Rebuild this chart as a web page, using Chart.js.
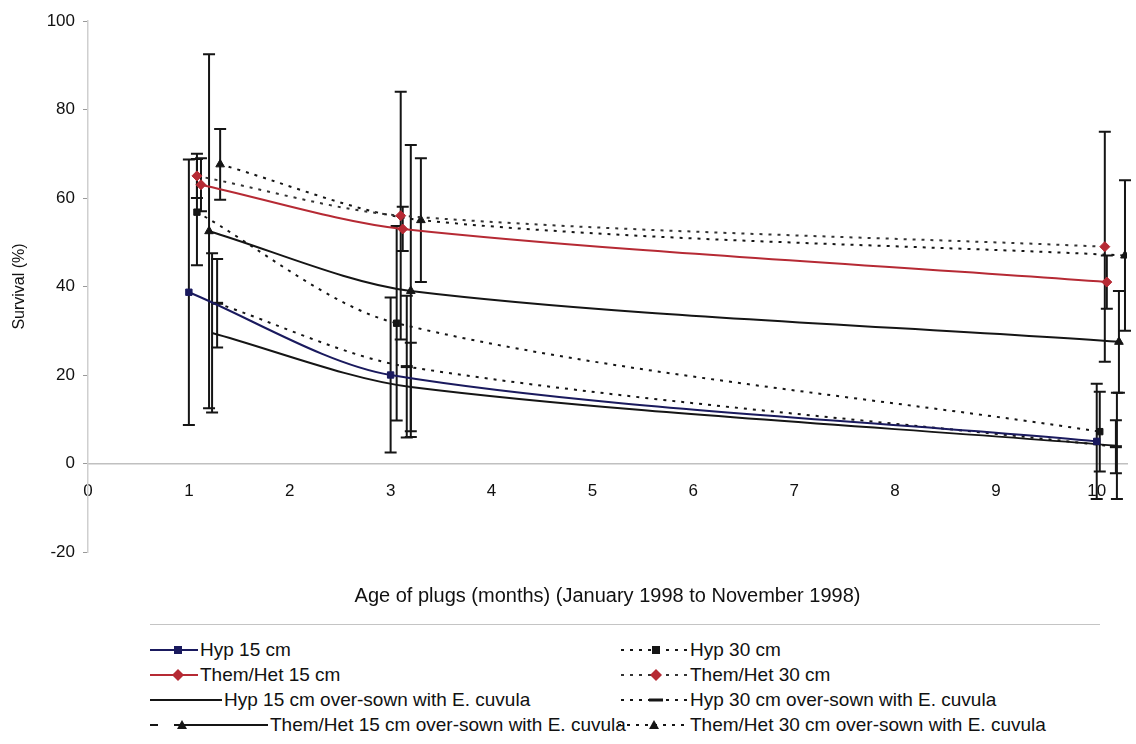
<!DOCTYPE html>
<html>
<head>
<meta charset="utf-8">
<script src="https://cdn.jsdelivr.net/npm/chart.js@4.4.0/dist/chart.umd.min.js"></script>
<style>
  html, body { margin: 0; padding: 0; background: #fff; }
  #wrap { position: relative; width: 1136px; height: 744px; overflow: hidden; font-family: "Liberation Sans", Arial, sans-serif; }
  #chart-box { position: absolute; left: 0; top: 0; width: 1136px; height: 620px; }
  .rule { position: absolute; left: 150px; top: 624px; width: 950px; border-top: 1px solid #c4c4c4; }
  .row { position: absolute; height: 24px; display: flex; align-items: center; font-size: 19px; color: #111; white-space: nowrap; }
  .row svg { flex: none; }
</style>
</head>
<body>
<div id="wrap">
  <div id="chart-box"><canvas id="c" width="1136" height="620"></canvas></div>
  <div class="rule"></div>
</div>
<script>
// x = age of plugs (months), small offsets keep the error bars apart
const yTicks = [-20, 0, 20, 40, 60, 80, 100];
const xTicks = [0, 1, 2, 3, 4, 5, 6, 7, 8, 9, 10];

const hyp15Age = [1.0, 3.0, 10.0];
const hyp15 = [38.7, 20, 5];
const hyp15Err = [30, 17.5, 13];

const themHet15Age = [1.12, 3.12, 10.1];
const themHet15 = [63, 53, 41];
const themHet15Err = [6, 5, 6];

const hyp15osAge = [1.23, 3.2, 10.2];
const hyp15os = [29.5, 17.3, 4];
const hyp15osErr = [18, 10, 12];

const themHet15osAge = [1.2, 3.2, 10.22];
const themHet15os = [52.5, 39, 27.5];
const themHet15osErr = [40, 33, 11.5];

const hyp30Age = [1.08, 3.06, 10.03];
const hyp30 = [56.8, 31.7, 7.2];
const hyp30Err = [12, 22, 9];

const themHet30Age = [1.08, 3.1, 10.08];
const themHet30 = [65, 56, 49];
const themHet30Err = [5, 28, 26];

const hyp30osAge = [1.28, 3.16, 10.19];
const hyp30os = [36.2, 21.9, 3.8];
const hyp30osErr = [10, 16, 6];

const themHet30osAge = [1.31, 3.3, 10.28];
const themHet30os = [67.6, 55, 47];
const themHet30osErr = [8, 14, 17];

const seriesNames = [
  "Hyp 15 cm",
  "Them/Het 15 cm",
  "Hyp 15 cm over-sown with E. cuvula",
  "Them/Het 15 cm over-sown with E. cuvula",
  "Hyp 30 cm",
  "Them/Het 30 cm",
  "Hyp 30 cm over-sown with E. cuvula",
  "Them/Het 30 cm over-sown with E. cuvula"
];

const NAVY = '#1a1a5e', RED = '#b62a34', BLK = '#151515';
const DOT = [3, 6];

function pts(xs, ys) { return xs.map((x, i) => ({x: x, y: ys[i]})); }

function line(label, xs, ys, err, o) {
  return {
    label: label,
    data: pts(xs, ys),
    err: err,
    errColor: o.err || BLK,
    borderColor: o.color,
    borderWidth: 2,
    borderDash: o.dash || [],
    pointStyle: o.pt || 'circle',
    pointRadius: o.r || 0,
    pointBackgroundColor: o.ptColor || o.color,
    pointBorderColor: o.ptColor || o.color,
    pointBorderWidth: o.pt === 'line' ? 3 : 1,
    tension: 0.3,
    fill: false
  };
}

const datasets = [
  line(seriesNames[0], hyp15Age, hyp15, hyp15Err, {color: NAVY, pt: 'rect', r: 4.5}),
  line(seriesNames[1], themHet15Age, themHet15, themHet15Err, {color: RED, pt: 'rectRot', r: 5}),
  line(seriesNames[2], hyp15osAge, hyp15os, hyp15osErr, {color: BLK}),
  line(seriesNames[3], themHet15osAge, themHet15os, themHet15osErr, {color: BLK, pt: 'triangle', r: 5}),
  line(seriesNames[4], hyp30Age, hyp30, hyp30Err, {color: BLK, dash: DOT, pt: 'rect', r: 4.5}),
  line(seriesNames[5], themHet30Age, themHet30, themHet30Err, {color: '#333', dash: DOT, pt: 'rectRot', r: 5, ptColor: RED}),
  line(seriesNames[6], hyp30osAge, hyp30os, hyp30osErr, {color: BLK, dash: DOT, pt: 'line', r: 6}),
  line(seriesNames[7], themHet30osAge, themHet30os, themHet30osErr, {color: BLK, dash: DOT, pt: 'triangle', r: 5})
];

const errorBars = {
  id: 'errorBars',
  beforeDatasetsDraw(chart) {
    const ctx = chart.ctx, x = chart.scales.x, y = chart.scales.y;
    ctx.save();
    ctx.lineWidth = 2;
    chart.data.datasets.forEach(ds => {
      ctx.strokeStyle = ds.errColor;
      ds.data.forEach((p, j) => {
        const px = x.getPixelForValue(p.x);
        const t = y.getPixelForValue(p.y + ds.err[j]);
        const b = y.getPixelForValue(p.y - ds.err[j]);
        ctx.beginPath();
        ctx.moveTo(px, t); ctx.lineTo(px, b);
        ctx.moveTo(px - 6, t); ctx.lineTo(px + 6, t);
        ctx.moveTo(px - 6, b); ctx.lineTo(px + 6, b);
        ctx.stroke();
      });
    });
    ctx.restore();
  }
};

const tickFont = {family: '"Liberation Sans", Arial, sans-serif', size: 17};

new Chart(document.getElementById('c'), {
  type: 'line',
  data: {datasets: datasets},
  plugins: [errorBars],
  options: {
    responsive: false,
    animation: false,
    layout: {padding: {top: 21, left: 10, right: 1, bottom: 0}},
    scales: {
      x: {
        type: 'linear',
        position: {y: 0},
        min: 0,
        max: 10.3,
        afterBuildTicks: s => { s.ticks = xTicks.map(v => ({value: v})); },
        ticks: {padding: 18, color: '#111', font: tickFont, maxRotation: 0},
        grid: {drawOnChartArea: false, drawTicks: false},
        border: {color: '#c0c0c0', width: 1.5, dash: [10, 4]}
      },
      y: {
        min: -20,
        max: 100,
        afterBuildTicks: s => { s.ticks = yTicks.map(v => ({value: v})); },
        afterFit: s => { s.width = 78; },
        ticks: {padding: 8, color: '#111', font: tickFont},
        grid: {drawOnChartArea: false, drawTicks: true, tickLength: 5, color: '#999'},
        border: {color: '#cfcfcf', width: 1.5},
        title: {display: true, text: 'Survival (%)', color: '#111', font: {family: tickFont.family, size: 16}, padding: 0}
      }
    },
    plugins: {
      legend: {display: false},
      tooltip: {enabled: false},
      title: {
        display: true,
        position: 'bottom',
        fullSize: false,
        text: 'Age of plugs (months) (January 1998 to November 1998)',
        color: '#111',
        font: {family: tickFont.family, size: 20, weight: 'normal'},
        padding: {top: 32, bottom: 12}
      }
    }
  }
});

// legend: two columns, four rows, built from the datasets
const legendSlots = [
  {left: 150, top: 638, w: 48, mx: 28},
  {left: 150, top: 663, w: 48, mx: 28},
  {left: 150, top: 688, w: 72, mx: 0},
  {left: 150, top: 713, w: 118, mx: 32, lead: true},
  {left: 621, top: 638, w: 67, mx: 35},
  {left: 621, top: 663, w: 67, mx: 35},
  {left: 621, top: 688, w: 67, mx: 35},
  {left: 618, top: 713, w: 70, mx: 36}
];

function markerSvg(ds, mx) {
  const c = ds.pointBackgroundColor;
  switch (ds.pointStyle) {
    case 'rect': return `<rect x="${mx - 4}" y="8" width="8" height="8" fill="${c}"/>`;
    case 'rectRot': return `<polygon points="${mx},6 ${mx + 6},12 ${mx},18 ${mx - 6},12" fill="${c}"/>`;
    case 'triangle': return `<polygon points="${mx},7 ${mx + 5},16 ${mx - 5},16" fill="${c}"/>`;
    case 'line': return `<line x1="${mx - 7}" y1="12" x2="${mx + 7}" y2="12" stroke="${c}" stroke-width="3"/>`;
    default: return '';
  }
}

const wrap = document.getElementById('wrap');
datasets.forEach((ds, i) => {
  const s = legendSlots[i];
  const dash = ds.borderDash.length ? `stroke-dasharray="${ds.borderDash.join(' ')}"` : '';
  let lineEl;
  if (s.lead) {
    lineEl = `<line x1="0" y1="12" x2="8" y2="12" stroke="${ds.borderColor}" stroke-width="2"/>` +
             `<line x1="24" y1="12" x2="${s.w}" y2="12" stroke="${ds.borderColor}" stroke-width="2"/>`;
  } else {
    lineEl = `<line x1="0" y1="12" x2="${s.w}" y2="12" stroke="${ds.borderColor}" stroke-width="2" ${dash}/>`;
  }
  const row = document.createElement('div');
  row.className = 'row';
  row.style.left = s.left + 'px';
  row.style.top = s.top + 'px';
  row.innerHTML = `<svg width="${s.w}" height="24">${lineEl}${ds.pointRadius ? markerSvg(ds, s.mx) : ''}</svg>` +
                  `<span style="margin-left:2px">${ds.label}</span>`;
  wrap.appendChild(row);
});
</script>
</body>
</html>
